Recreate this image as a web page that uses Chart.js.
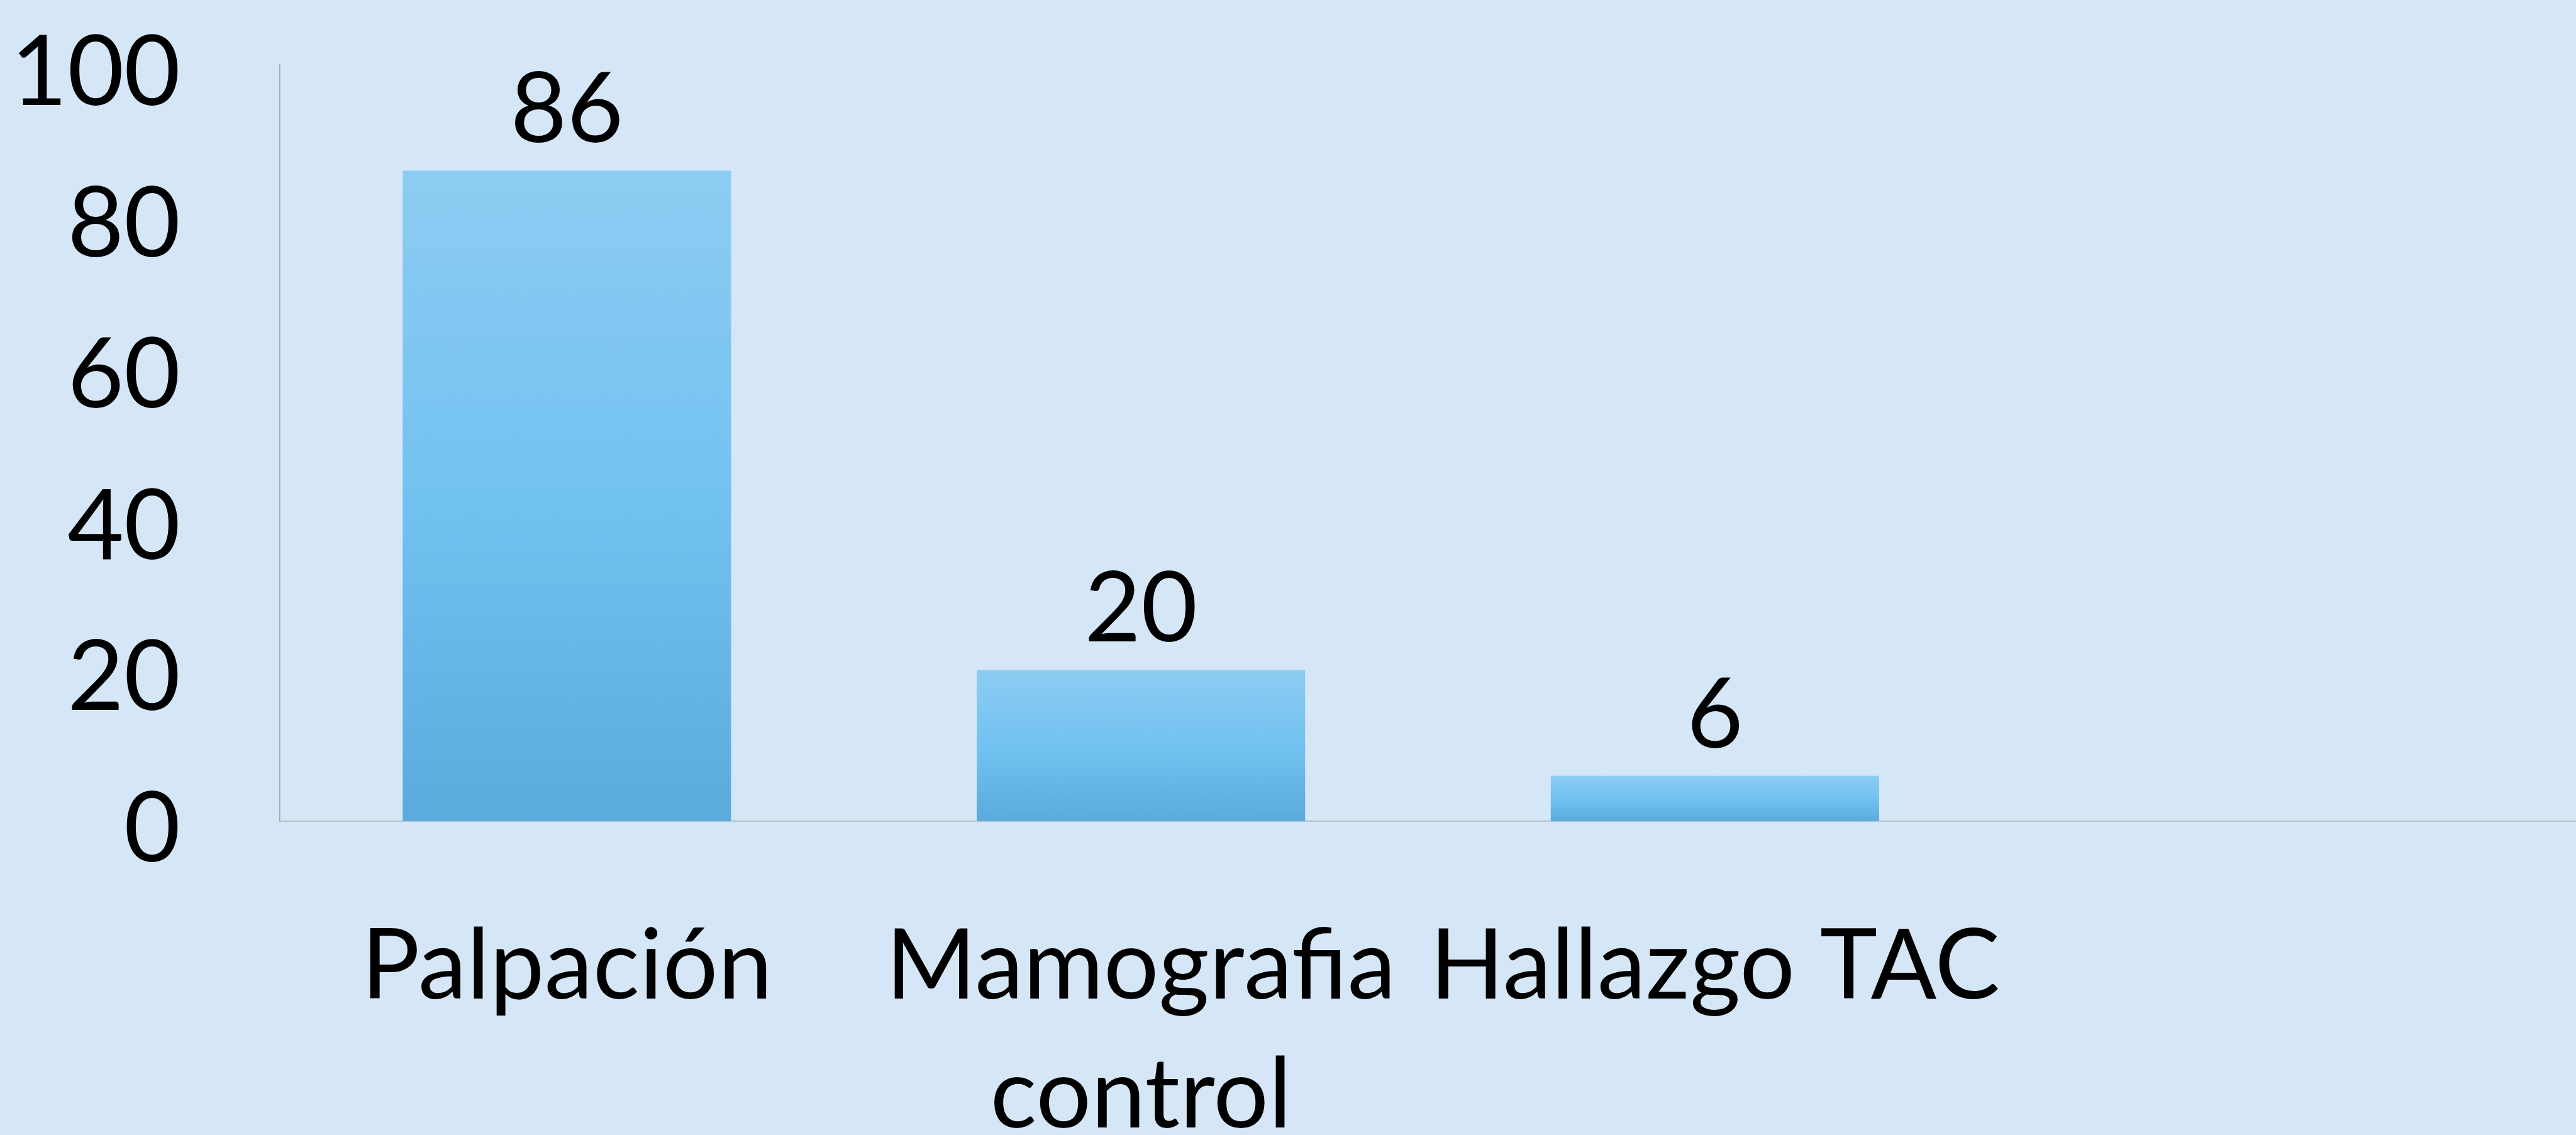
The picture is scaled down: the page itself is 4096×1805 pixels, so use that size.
<!DOCTYPE html>
<html>
<head>
<meta charset="utf-8">
<script src="https://cdn.jsdelivr.net/npm/chart.js@4/dist/chart.umd.min.js"></script>
<style>
    html, body { margin: 0; padding: 0; background: #d5e6f6; overflow: hidden; }
    canvas { display: block; }
</style>
</head>
<body>
<canvas id="grafica" width="4096" height="1805"></canvas>
<script>
// Datos de la gráfica
const categorias = ['Palpación', ['Mamografia', 'control'], 'Hallazgo TAC', ''];
const valores = [86, 20, 6, null];
const ejeMin = 0;
const ejeMax = 100;
const paso = 20;

const fuente = 'Lato, "Open Sans", sans-serif';

// Degradado de cada barra (de arriba hacia abajo)
function colorBarra(context) {
    const chart = context.chart;
    const escala = chart.scales && chart.scales.y;
    if (!chart.chartArea || !escala || context.raw == null) return '#72c2f1';
    const arriba = escala.getPixelForValue(context.raw);
    const abajo = escala.getPixelForValue(0);
    const g = chart.ctx.createLinearGradient(0, arriba, 0, abajo);
    g.addColorStop(0, '#8dccf2');
    g.addColorStop(0.5, '#72c2f1');
    g.addColorStop(1, '#5aaadd');
    return g;
}

// Etiquetas con el valor encima de cada barra
const etiquetasValor = {
    id: 'etiquetasValor',
    afterDatasetsDraw(chart) {
        const ctx = chart.ctx;
        const meta = chart.getDatasetMeta(0);
        ctx.save();
        ctx.font = '155px ' + fuente;
        ctx.fillStyle = '#000000';
        ctx.textAlign = 'center';
        ctx.textBaseline = 'alphabetic';
        meta.data.forEach((barra, i) => {
            if (valores[i] == null) return;
            ctx.fillText(String(valores[i]), barra.x, barra.y - 45);
        });
        ctx.restore();
    }
};

// El relleno de las etiquetas no debe mover el área de la gráfica
function sinRelleno(scale) {
    scale.paddingTop = 0;
    scale.paddingBottom = 0;
    scale.paddingLeft = 0;
    scale.paddingRight = 0;
}

const ctx = document.getElementById('grafica').getContext('2d');
new Chart(ctx, {
    type: 'bar',
    data: {
        labels: categorias,
        datasets: [{
            data: valores,
            backgroundColor: colorBarra,
            borderWidth: 0,
            categoryPercentage: 1,
            barPercentage: 0.572
        }]
    },
    options: {
        responsive: false,
        animation: false,
        layout: { padding: { top: 103, left: 0, right: -9, bottom: 0 } },
        plugins: {
            legend: { display: false },
            tooltip: { enabled: false }
        },
        scales: {
            x: {
                grid: { display: false, drawTicks: false },
                border: { display: true, color: '#a8a8a8', width: 1.5 },
                ticks: {
                    color: '#000000',
                    font: { family: fuente, size: 155, lineHeight: 1.32 },
                    padding: 130,
                    maxRotation: 0,
                    autoSkip: false
                },
                afterFit(scale) { scale.height = 499; sinRelleno(scale); }
            },
            y: {
                min: ejeMin,
                max: ejeMax,
                grid: { display: false, drawTicks: false },
                border: { display: true, color: '#a8a8a8', width: 1.5 },
                ticks: {
                    stepSize: paso,
                    color: '#000000',
                    font: { family: fuente, size: 155 },
                    padding: 158,
                    labelOffset: 14
                },
                afterFit(scale) { scale.width = 445; sinRelleno(scale); }
            }
        }
    },
    plugins: [etiquetasValor]
});
</script>
</body>
</html>
